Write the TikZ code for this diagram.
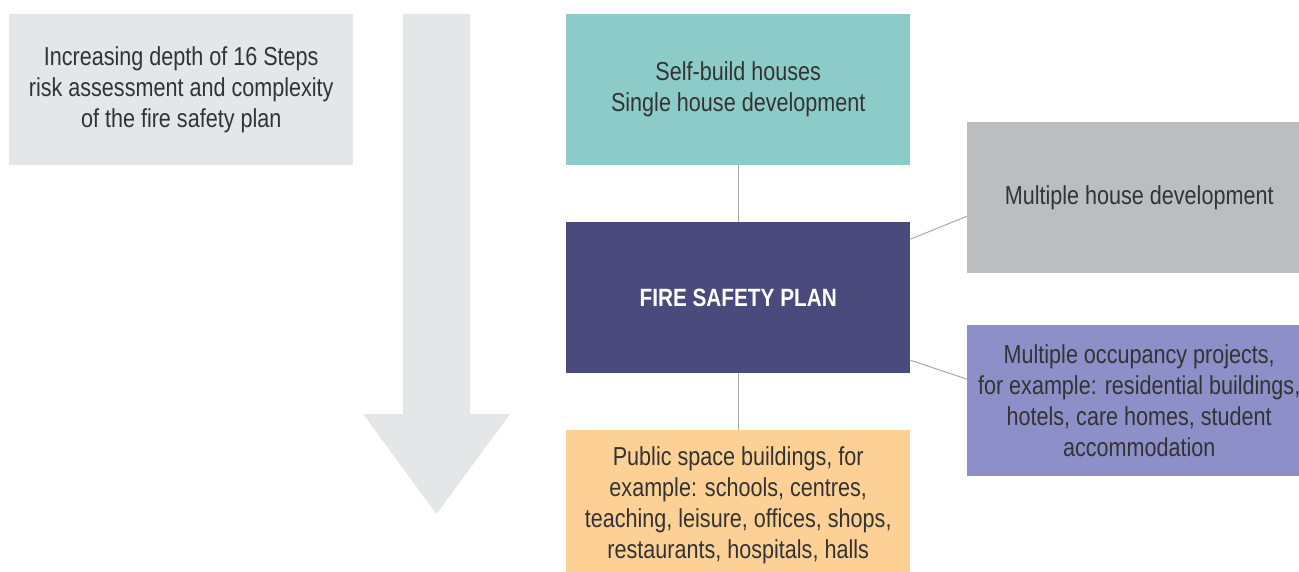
\documentclass[tikz,border=0pt]{standalone}
\usepackage{fontspec}
\setmainfont{Liberation Sans}[FakeStretch=0.83]
\usepackage{xcolor}
\definecolor{boxgrey}{HTML}{E5E6E8}
\definecolor{teal}{HTML}{8DCBC9}
\definecolor{planpurple}{HTML}{4A4A7C}
\definecolor{midgrey}{HTML}{BCBDC1}
\definecolor{lavender}{HTML}{8C8FC8}
\definecolor{peach}{HTML}{FDD195}
\definecolor{textgrey}{HTML}{333333}
\definecolor{linegrey}{HTML}{A8A8A8}

\begin{document}
\begin{tikzpicture}[x=1pt,y=-1pt]
\tikzset{every node/.style={text=textgrey,font=\fontsize{26}{31}\selectfont}}
\tikzset{panel/.style={anchor=north west,minimum width=344pt,minimum height=151pt,inner sep=0pt,align=center}}
\tikzset{link/.style={draw=linegrey,line width=1pt}}

\useasboundingbox (0,0) rectangle (1299,572);
\clip (0,0) rectangle (1299,572);

% arrow down the left
\fill[boxgrey] (403,14) -- (470,14) -- (470,414) -- (510,414) -- (436.5,514) -- (363,414) -- (403,414) -- cycle;

\node[panel,fill=boxgrey] (depth) at (9,14) {Increasing depth of 16 Steps\\risk assessment and complexity\\of the fire safety plan};

\node[panel,fill=teal] (self) at (566,14) {Self-build houses\\Single house development};
\node[panel,fill=planpurple,text=white,font=\fontsize{25}{31}\selectfont\bfseries] (plan) at (566,222) {FIRE SAFETY PLAN};
\node[panel,fill=peach] (public) at (566,430) {Public space buildings, for\\example: schools, centres,\\teaching, leisure, offices, shops,\\restaurants, hospitals, halls};
\node[panel,fill=midgrey] (multi) at (967,122) {Multiple house development};
\node[panel,fill=lavender] (occ) at (967,325) {Multiple occupancy projects,\\for example: residential buildings,\\hotels, care homes, student\\accommodation};

\draw[link] (self) -- (plan);
\draw[link] (plan) -- (public);
\draw[link] ([yshift=58.5pt]plan.east) -- ([yshift=-18.5pt]multi.west);
\draw[link] ([yshift=-62.5pt]plan.east) -- ([yshift=21.5pt]occ.west);

\end{tikzpicture}
\end{document}
